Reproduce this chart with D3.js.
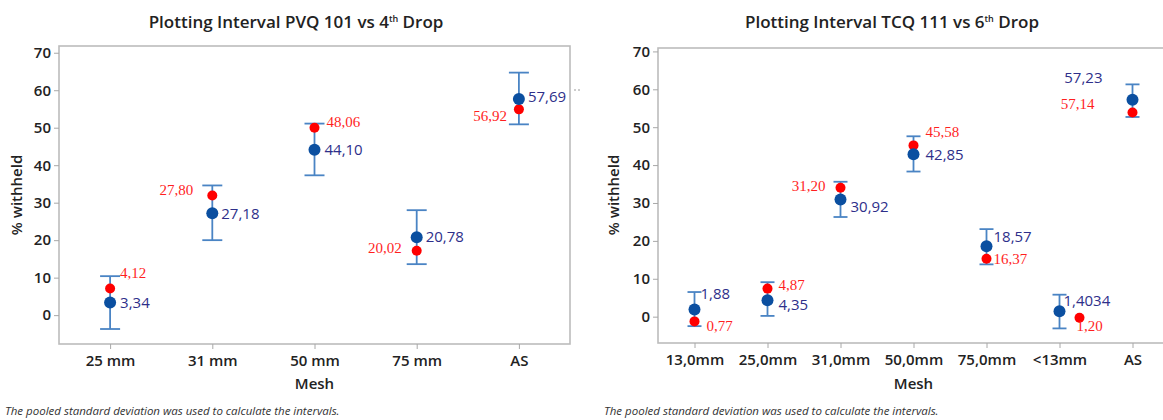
<!DOCTYPE html>
<html>
<head>
<meta charset="utf-8">
<script src="https://cdn.jsdelivr.net/npm/d3@7"></script>
<style>
  body { margin: 0; background: #fff; }
  svg { display: block; }
  text { font-family: "Open Sans", sans-serif; }
</style>
</head>
<body>
<svg id="chart" width="1163" height="420"></svg>
<script>
// ---- left panel data (PVQ 101, 4th drop)
var meshA = ["25 mm", "31 mm", "50 mm", "75 mm", "AS"];
var meanA = [3.34, 27.18, 44.10, 20.78, 57.69];
var lowA = [-3.7, 20.0, 37.3, 13.6, 50.9];
var highA = [10.4, 34.6, 51.1, 28.0, 64.7];
var redA = [7.1, 31.9, 50.0, 17.2, 54.9];
var meanLabA = ["3,34", "27,18", "44,10", "20,78", "57,69"];
var redLabA = ["4,12", "27,80", "48,06", "20,02", "56,92"];

// ---- right panel data (TCQ 111, 6th drop)
var meshB = ["13,0mm", "25,0mm", "31,0mm", "50,0mm", "75,0mm", "<13mm", "AS"];
var meanB = [1.88, 4.35, 30.92, 42.85, 18.57, 1.4034, 57.23];
var lowB = [-2.5, 0.2, 26.3, 38.3, 13.8, -3.1, 52.7];
var highB = [6.5, 9.1, 35.6, 47.6, 23.1, 5.8, 61.3];
var redB = [-1.25, 7.4, 34.0, 45.2, 15.3, -0.3, 53.9];
var meanLabB = ["1,88", "4,35", "30,92", "42,85", "18,57", "1,4034", "57,23"];
var redLabB = ["0,77", "4,87", "31,20", "45,58", "16,37", "1,20", "57,14"];

var yTicks = [0, 10, 20, 30, 40, 50, 60, 70];

// label placement, px offsets from the category / its dot: [dx, dy, anchor]
var meanPosA = [[10, 0, "start"], [9, 0, "start"], [10, 0, "start"], [9, 0, "start"], [9, -2, "start"]];
var redPosA = [[10, -16, "start"], [-19, -6, "end"], [12, -6, "start"], [-15, -3, "end"], [-12, 6, "end"]];
var meanPosB = [[6, -16, "start"], [11, 5, "start"], [10, 7, "start"], [12, 0, "start"], [7, -10, "start"], [4, -11, "start"], [-30, -22, "end"]];
var redPosB = [[12, 4, "start"], [11, -4, "start"], [-15, -2, "end"], [12, -14, "start"], [7, 0, "start"], [17, 8, "start"], [-38, -9, "end"]];
var redShiftB = [0, 0, 0, 0, 0, 20, 0];

var svg = d3.select("#chart");

function panel(o) {
  var g = svg.append("g");
  var x = d3.scalePoint().domain(o.cats).range([o.left, o.right]).padding(0.5);
  var y = d3.scaleLinear().domain(o.ydom).range([o.bottom, o.top]);

  // title
  var t = g.append("text")
    .attr("x", o.titleX).attr("y", 28)
    .attr("text-anchor", "middle")
    .style("font-size", "17px").style("font-weight", 600).style("fill", "#222");
  t.append("tspan").text(o.title[0]);
  t.append("tspan").attr("dy", -6).style("font-size", "9px").text(o.title[1]);
  t.append("tspan").attr("dy", 6).text(o.title[2]);

  // frame
  g.append("rect")
    .attr("x", o.left).attr("y", o.top)
    .attr("width", o.right - o.left).attr("height", o.bottom - o.top)
    .attr("fill", "none").attr("stroke", "#bcbcbc").attr("stroke-width", 1.6);

  // axes
  var ya = g.append("g").attr("transform", "translate(" + o.left + ",0)")
    .call(d3.axisLeft(y).tickValues(yTicks).tickSize(5).tickPadding(3));
  var xa = g.append("g").attr("transform", "translate(0," + o.bottom + ")")
    .call(d3.axisBottom(x).tickSize(5).tickPadding(6));
  [ya, xa].forEach(function(a) {
    a.select(".domain").remove();
    a.selectAll("line").attr("stroke", "#a8a8a8");
    a.selectAll("text").style("font-size", "15px").style("font-weight", 600)
      .style("fill", "#222").style("font-family", "'Open Sans', sans-serif");
  });

  g.append("text")
    .attr("x", (o.left + Math.min(o.right, 1163)) / 2 + o.meshShift).attr("y", 389)
    .attr("text-anchor", "middle")
    .style("font-size", "15px").style("font-weight", 600).style("fill", "#222")
    .text("Mesh");

  g.append("text")
    .attr("transform", "translate(" + o.ylabX + ",195) rotate(-90)")
    .attr("text-anchor", "middle")
    .style("font-size", "15px").style("font-weight", 600).style("fill", "#222")
    .text("% withheld");

  g.append("text")
    .attr("x", o.noteX).attr("y", 415)
    .style("font-size", "11.5px").style("font-style", "italic").style("fill", "#333")
    .text("The pooled standard deviation was used to calculate the intervals.");

  // interval bars
  var bars = g.append("g").attr("stroke", "#4a84c4").attr("stroke-width", 1.8);
  o.cats.forEach(function(c, i) {
    var cx = x(c);
    bars.append("line").attr("x1", cx).attr("x2", cx).attr("y1", y(o.low[i])).attr("y2", y(o.high[i]));
    bars.append("line").attr("x1", cx - o.cap).attr("x2", cx + o.cap).attr("y1", y(o.low[i])).attr("y2", y(o.low[i]));
    bars.append("line").attr("x1", cx - o.cap).attr("x2", cx + o.cap).attr("y1", y(o.high[i])).attr("y2", y(o.high[i]));
  });

  // red points
  g.selectAll(".red").data(o.red).enter().append("circle")
    .attr("cx", function(d, i) { return x(o.cats[i]) + (o.redShift ? o.redShift[i] : 0); })
    .attr("cy", function(d) { return y(d); })
    .attr("r", 5).attr("fill", "#ff0000");

  // means
  g.selectAll(".mean").data(o.mean).enter().append("circle")
    .attr("cx", function(d, i) { return x(o.cats[i]); })
    .attr("cy", function(d) { return y(d); })
    .attr("r", 6).attr("fill", "#0b4fa0");

  // labels
  o.meanLab.forEach(function(s, i) {
    var p = o.meanPos[i];
    g.append("text")
      .attr("x", x(o.cats[i]) + p[0]).attr("y", y(o.mean[i]) + p[1])
      .attr("dy", "0.35em").attr("text-anchor", p[2])
      .style("font-size", "15px").style("fill", "#2e2f8a")
      .text(s);
  });
  o.redLab.forEach(function(s, i) {
    var p = o.redPos[i];
    g.append("text")
      .attr("x", x(o.cats[i]) + p[0]).attr("y", y(o.red[i]) + p[1])
      .attr("dy", "0.35em").attr("text-anchor", p[2])
      .style("font-size", "15px").style("fill", "#ff1f1f")
      .style("font-family", "'Liberation Serif', 'Times New Roman', serif")
      .text(s);
  });
  return {x: x, y: y, g: g};
}

var pA = panel({
  cats: meshA, mean: meanA, low: lowA, high: highA, red: redA,
  meanLab: meanLabA, redLab: redLabA, meanPos: meanPosA, redPos: redPosA,
  left: 59, right: 570, top: 46, bottom: 344, ydom: [-7.7, 71.8],
  title: ["Plotting Interval PVQ 101 vs 4", "th", " Drop"], titleX: 296,
  ylabX: 22, noteX: 5, cap: 10, meshShift: 0
});

// small mark next to the AS label of the left panel
pA.g.append("line").attr("x1", 574).attr("x2", 580).attr("y1", 90).attr("y2", 90)
  .attr("stroke", "#999").attr("stroke-width", 1).attr("stroke-dasharray", "2,2");

panel({
  cats: meshB, mean: meanB, low: lowB, high: highB, red: redB, redShift: redShiftB,
  meanLab: meanLabB, redLab: redLabB, meanPos: meanPosB, redPos: redPosB,
  left: 658, right: 1169, top: 48, bottom: 343, ydom: [-6.95, 70.9],
  title: ["Plotting Interval TCQ 111 vs 6", "th", " Drop"], titleX: 892,
  ylabX: 619, noteX: 604, cap: 7, meshShift: 3
});
</script>
</body>
</html>
